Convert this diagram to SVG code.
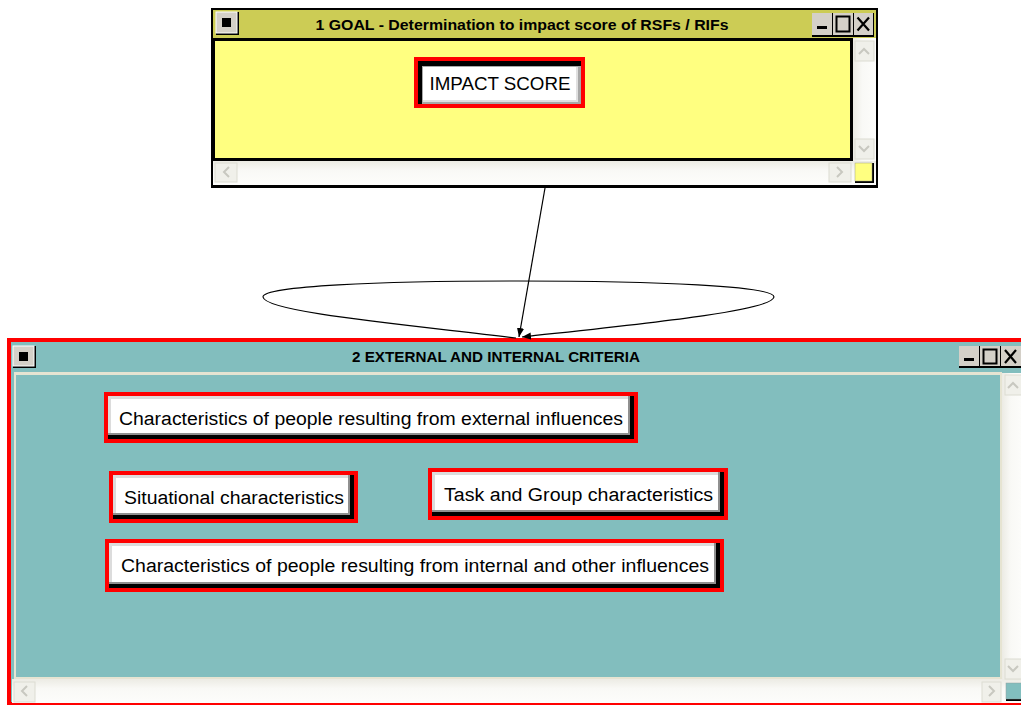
<svg xmlns="http://www.w3.org/2000/svg" width="1021" height="705" viewBox="0 0 1021 705">
<defs>
<style>
.title{font-family:"Liberation Sans",Arial,sans-serif;font-weight:bold;font-size:15px;fill:#000;text-anchor:middle}
.lbl{font-family:"Liberation Sans",Arial,sans-serif;font-size:18px;fill:#000;text-anchor:middle}
.sbtn{fill:#f0f0ea;stroke:#dcdcd2;stroke-width:1}
.chev{fill:none;stroke:#c8c8c0;stroke-width:2}
.wbtn{fill:#d4d0c8}
.edge{fill:none;stroke:#000;stroke-width:1.2}
</style>
<linearGradient id="hsb" x1="0" y1="0" x2="0" y2="1">
<stop offset="0" stop-color="#ecebe4"/><stop offset="0.4" stop-color="#f9f9f6"/><stop offset="1" stop-color="#fdfdfb"/>
</linearGradient>
<linearGradient id="vsb" x1="0" y1="0" x2="1" y2="0">
<stop offset="0" stop-color="#ecebe4"/><stop offset="0.4" stop-color="#f9f9f6"/><stop offset="1" stop-color="#fdfdfb"/>
</linearGradient>
<marker id="arr" viewBox="0 0 10 10" refX="10" refY="5" markerWidth="9" markerHeight="9" orient="auto" markerUnits="userSpaceOnUse">
<path d="M0,1 L10,5 L0,9 z" fill="#000"/>
</marker>
</defs>
<rect width="1021" height="705" fill="#fff"/>

<g id="window-goal">
<rect x="211" y="8" width="667" height="180" fill="#000"/>
<rect x="213" y="10" width="663" height="28" fill="#cccc55"/>
<rect x="213" y="38" width="640" height="123" fill="#000"/>
<rect x="215" y="41" width="635" height="117" fill="#ffff80"/>
<rect x="853" y="38" width="23" height="123" fill="url(#vsb)"/>
<rect x="213" y="161" width="663" height="24" fill="url(#hsb)"/>
<rect x="855" y="41" width="19" height="20" class="sbtn"/>
<polyline points="859,54 864,49 869,54" class="chev"/>
<rect x="855" y="139" width="19" height="20" class="sbtn"/>
<polyline points="859,146 864,151 869,146" class="chev"/>
<rect x="215" y="163" width="22" height="19" class="sbtn"/>
<polyline points="229,167 224,172 229,177" class="chev"/>
<rect x="829" y="163" width="22" height="19" class="sbtn"/>
<polyline points="837,167 842,172 837,177" class="chev"/>
<rect x="855" y="163" width="19" height="20" fill="#000"/>
<rect x="855" y="163" width="17" height="18" fill="#ffff80" stroke="#a0a080" stroke-width="0.5"/>
<rect x="216" y="12" width="23" height="23" fill="#000"/>
<rect x="216" y="12" width="21" height="21" class="wbtn" stroke="#fff" stroke-width="1"/>
<rect x="222" y="18" width="9" height="9" fill="#000"/>
<rect x="812" y="13" width="62" height="24" fill="#000"/>
<rect x="812" y="13" width="20" height="22" class="wbtn"/>
<rect x="833" y="13" width="20" height="22" class="wbtn"/>
<rect x="854" y="13" width="19" height="22" class="wbtn"/>
<rect x="817" y="26" width="10" height="3" fill="#000"/>
<rect x="836.5" y="16.5" width="13" height="15" fill="none" stroke="#000" stroke-width="2"/>
<path d="M857.5,17.5 L869,30.5 M869,17.5 L857.5,30.5" stroke="#000" stroke-width="2.2"/>
<text class="title" x="522" y="30" textLength="413" lengthAdjust="spacingAndGlyphs">1 GOAL - Determination to impact score of RSFs / RIFs</text>
</g>

<g id="node-impact-score">
<rect x="414" y="57" width="171" height="51" fill="#f00"/>
<rect x="418" y="61" width="163" height="43" fill="#000"/>
<rect x="422" y="66" width="159" height="38" fill="#a8a8a8"/>
<rect x="423" y="67" width="155" height="35" fill="#e0e0e0"/>
<rect x="423" y="67" width="153" height="33" fill="#fff"/>
<text class="lbl" x="500" y="90" textLength="141" lengthAdjust="spacingAndGlyphs">IMPACT SCORE</text>
</g>

<g id="window-criteria">
<rect x="7" y="338" width="1020" height="368" fill="#f00"/>
<rect x="11" y="342" width="1016" height="360" fill="#82bebe"/>
<rect x="14" y="372" width="988" height="307" fill="#e6e4d2"/>
<rect x="16" y="375" width="984" height="302" fill="#82bebe"/>
<rect x="1002" y="373" width="22" height="306" fill="url(#vsb)"/>
<rect x="12" y="679" width="1012" height="24" fill="url(#hsb)"/>
<rect x="1005" y="375" width="18" height="20" class="sbtn"/>
<polyline points="1008,388 1013,383 1018,388" class="chev"/>
<rect x="1005" y="659" width="18" height="20" class="sbtn"/>
<polyline points="1008,666 1013,671 1018,666" class="chev"/>
<rect x="14" y="682" width="21" height="20" class="sbtn"/>
<polyline points="27,686 22,691 27,696" class="chev"/>
<rect x="982" y="682" width="19" height="20" class="sbtn"/>
<polyline points="989,686 994,691 989,696" class="chev"/>
<rect x="1006" y="683" width="17" height="18" fill="#000"/>
<rect x="1006" y="683" width="16" height="16" fill="#82bebe" stroke="#90a0a0" stroke-width="0.5"/>
<rect x="13" y="346" width="23" height="22" fill="#000"/>
<rect x="13" y="346" width="21" height="20" class="wbtn" stroke="#fff" stroke-width="1"/>
<rect x="19" y="352" width="9" height="9" fill="#000"/>
<rect x="959" y="346" width="65" height="22" fill="#000"/>
<rect x="959" y="346" width="20" height="20" class="wbtn"/>
<rect x="980" y="346" width="20" height="20" class="wbtn"/>
<rect x="1001" y="346" width="20" height="20" class="wbtn"/>
<rect x="964" y="358" width="10" height="3" fill="#000"/>
<rect x="983.5" y="349.5" width="13" height="14" fill="none" stroke="#000" stroke-width="2"/>
<path d="M1005,350 L1016,363 M1016,350 L1005,363" stroke="#000" stroke-width="2.2"/>
<text class="title" x="496" y="362" textLength="288" lengthAdjust="spacingAndGlyphs">2 EXTERNAL AND INTERNAL CRITERIA</text>
</g>

<g id="node-external">
<rect x="104" y="392" width="534" height="51" fill="#f00"/>
<rect x="108" y="396" width="526" height="43" fill="#000"/>
<rect x="108" y="396" width="522" height="39" fill="#909090"/>
<rect x="108" y="396" width="520" height="37" fill="#dcdcdc"/>
<rect x="111" y="399" width="517" height="34" fill="#fff"/>
<text class="lbl" x="371" y="425" textLength="504" lengthAdjust="spacingAndGlyphs">Characteristics of people resulting from external influences</text>
</g>

<g id="node-situational">
<rect x="109" y="471" width="249" height="52" fill="#f00"/>
<rect x="113" y="475" width="241" height="44" fill="#000"/>
<rect x="113" y="475" width="237" height="40" fill="#909090"/>
<rect x="113" y="475" width="235" height="38" fill="#dcdcdc"/>
<rect x="116" y="478" width="232" height="35" fill="#fff"/>
<text class="lbl" x="234" y="504" textLength="220" lengthAdjust="spacingAndGlyphs">Situational characteristics</text>
</g>

<g id="node-task-group">
<rect x="428" y="468" width="300" height="52" fill="#f00"/>
<rect x="432" y="472" width="292" height="44" fill="#000"/>
<rect x="432" y="472" width="288" height="40" fill="#909090"/>
<rect x="432" y="472" width="286" height="38" fill="#dcdcdc"/>
<rect x="435" y="475" width="283" height="35" fill="#fff"/>
<text class="lbl" x="578.5" y="501" textLength="269" lengthAdjust="spacingAndGlyphs">Task and Group characteristics</text>
</g>

<g id="node-internal">
<rect x="105" y="539" width="619" height="53" fill="#f00"/>
<rect x="109" y="543" width="611" height="45" fill="#000"/>
<rect x="109" y="543" width="607" height="41" fill="#909090"/>
<rect x="109" y="543" width="605" height="39" fill="#dcdcdc"/>
<rect x="112" y="546" width="602" height="36" fill="#fff"/>
<text class="lbl" x="415" y="572" textLength="588" lengthAdjust="spacingAndGlyphs">Characteristics of people resulting from internal and other influences</text>
</g>

<g id="connectors">
<line x1="545" y1="188" x2="519" y2="337" class="edge" marker-end="url(#arr)"/>
<path d="M516,338 C400,324 265,312 263,297 C262,286 380,281 518,281 C656,281 774,286 774,297 C772,311 640,324 522,337" class="edge" marker-end="url(#arr)"/>
</g>
</svg>
